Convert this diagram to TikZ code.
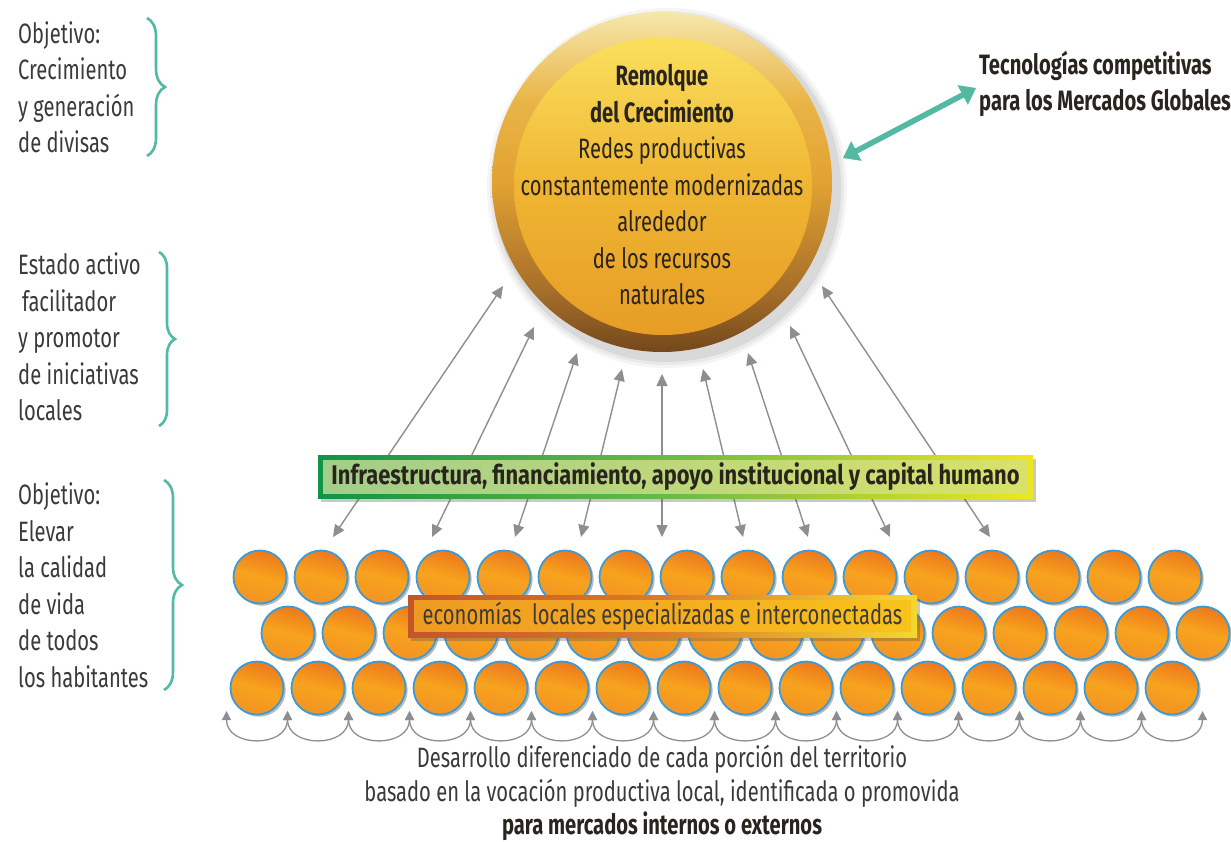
\documentclass[tikz,border=0pt]{standalone}
\usepackage{fontspec}
\setmainfont{Fira Sans}[FakeStretch=0.72]
\newfontfamily\barfont{Fira Sans}[FakeStretch=0.81]
\usetikzlibrary{arrows.meta,decorations.pathreplacing,shadows}

\definecolor{ink}{HTML}{2A241E}
\definecolor{greytxt}{HTML}{3A3A3A}
\definecolor{tealbr}{HTML}{52B9A3}
\definecolor{arrowgrey}{HTML}{8D8E91}
\definecolor{orbblue}{HTML}{3C9BD6}
\definecolor{orbdark}{HTML}{EE781C}
\definecolor{orbmid}{HTML}{F7A31E}
\definecolor{orblow}{HTML}{F39323}
\definecolor{ringA}{HTML}{74481B}
\definecolor{ringB}{HTML}{A66E29}
\definecolor{ringC}{HTML}{E2A232}
\definecolor{ringD}{HTML}{E9B548}
\definecolor{ringE}{HTML}{F6E7AC}
\definecolor{coreA}{HTML}{E69D26}
\definecolor{coreB}{HTML}{EFB532}
\definecolor{coreC}{HTML}{FAE05E}
\definecolor{gframeL}{HTML}{0E9447}
\definecolor{gframeM}{HTML}{6DBB45}
\definecolor{gframeR}{HTML}{F0E61E}
\definecolor{ginnerL}{HTML}{A3CD8B}
\definecolor{ginnerM}{HTML}{BDD77A}
\definecolor{ginnerR}{HTML}{D8E26B}
\definecolor{oframeL}{HTML}{C3552B}
\definecolor{oframeM}{HTML}{DB7A2A}
\definecolor{oframeR}{HTML}{F2D830}
\definecolor{oinnerL}{HTML}{EE9A22}
\definecolor{oinnerM}{HTML}{F4AC20}
\definecolor{oinnerR}{HTML}{F8C31B}

% golden sphere: ring and core
\pgfdeclareverticalshading{ringshade}{100bp}{%
  color(0bp)=(ringA); color(25bp)=(ringA); color(34bp)=(ringB);
  color(50bp)=(ringC); color(62bp)=(ringD); color(75bp)=(ringE);
  color(100bp)=(ringE)}
\pgfdeclareverticalshading{coreshade}{100bp}{%
  color(0bp)=(coreA); color(25bp)=(coreA); color(50bp)=(coreB);
  color(75bp)=(coreC); color(100bp)=(coreC)}

\begin{document}
\begin{tikzpicture}[x=1pt,y=-1pt,
  txt/.style={font=\fontsize{28}{36.5}\selectfont, inner sep=0pt},
  greyarrow/.style={draw=arrowgrey, line width=1.4pt,
    {Triangle[length=12pt,width=11pt]}-{Triangle[length=12pt,width=11pt]}},
  looparrow/.style={draw=arrowgrey, line width=1.3pt,
    {Triangle[length=9pt,width=9pt]}-{Triangle[length=9pt,width=9pt]}},
  tealarrow/.style={draw=tealbr, line width=5.5pt,
    {Triangle[length=15pt,width=21pt]}-{Triangle[length=15pt,width=21pt]}},
  bracestyle/.style={draw=tealbr, line width=2.6pt,
    decorate, decoration={brace, amplitude=#1}},
  orb/.style={circle, minimum size=53pt, inner sep=0pt, outer sep=0pt,
    draw=orbblue, line width=1.8pt,
    top color=orbdark, bottom color=orblow, middle color=orbmid,
    shading angle=-15,
    drop shadow={shadow xshift=2.2pt, shadow yshift=-2.2pt, opacity=0.45, fill=black!60}},
  barframe/.style={rectangle, inner sep=0pt, outer sep=0pt,
    drop shadow={shadow xshift=3pt, shadow yshift=-4pt, opacity=0.3, fill=black!70}},
  barinner/.style={rectangle, inner sep=0pt, outer sep=0pt},
]
\useasboundingbox (0,0) rectangle (1231,841);

% soft shadow behind the sphere
\foreach \r/\o in {180/0.04,177/0.05,174/0.07} \fill[black, opacity=\o] (667,188) circle (\r);
% sphere
\shade[shading=ringshade] (662,182) circle (170);
\shade[shading=coreshade] (663,186) circle (149);
\node[txt, ink, align=center] (sphere) at (662,185)
  {\textbf{Remolque}\\\textbf{del Crecimiento}\\Redes productivas\\constantemente modernizadas\\alrededor\\de los recursos\\naturales};

% global technologies
\node[txt, ink, anchor=west, align=left] (tec) at (979,84)
  {\textbf{Tecnologías competitivas}\\\textbf{para los Mercados Globales}};
\coordinate (tecnear) at (843,158);
\coordinate (tecfar) at (976,88);
\draw[tealarrow, draw=black, opacity=0.15, shift={(2,3)}] (tecnear) -- (tecfar);
\draw[tealarrow] (tecnear) -- (tecfar);

% left column
\node[txt, greytxt, anchor=west, align=left] (goalA) at (18,87)
  {Objetivo:\\Crecimiento\\y generación\\de divisas};
\node[txt, greytxt, anchor=west, align=left] (goalB) at (18,337)
  {Estado activo\\\hspace{4pt}facilitador\\y promotor\\de iniciativas\\locales};
\node[txt, greytxt, anchor=west, align=left] (goalC) at (18,585)
  {Objetivo:\\Elevar\\la calidad\\de vida\\de todos\\los habitantes};
\draw[bracestyle=18pt] (147,18) -- (147,156);
\draw[bracestyle=16pt] (159,252) -- (159,426);
\draw[bracestyle=18pt] (164,480) -- (164,690);

% links between the sphere and the local economies
\coordinate (t1) at (503,286); \coordinate (b1) at (333,537);
\coordinate (t2) at (534,327); \coordinate (b2) at (432,537);
\coordinate (t3) at (577,353); \coordinate (b3) at (515,537);
\coordinate (t4) at (622,369); \coordinate (b4) at (581,537);
\coordinate (t5) at (662,374); \coordinate (b5) at (662,537);
\coordinate (t6) at (703,369); \coordinate (b6) at (743,537);
\coordinate (t7) at (748,353); \coordinate (b7) at (808,537);
\coordinate (t8) at (790,326); \coordinate (b8) at (890,537);
\coordinate (t9) at (822,286); \coordinate (b9) at (990,537);
\foreach \i in {1,...,9} \draw[greyarrow] (t\i) -- (b\i);

% local economies
\foreach \k in {0,...,15} \node[orb] (ra\k) at ({260+61*\k},577) {};
\foreach \k in {0,...,15} \node[orb] (rb\k) at ({288+61*\k},633) {};
\foreach \k in {0,...,15} \node[orb] (rc\k) at ({257+61*\k},688) {};

% links between neighbouring territories
\foreach \k in {0,...,16} \coordinate (j\k) at ({226.5+61*\k},711);
\foreach \k in {0,...,15} {
  \pgfmathtruncatemacro{\n}{\k+1}
  \draw[looparrow] (j\k) .. controls +(0,37) and +(0,37) .. (j\n);
}

% support bar
\node[barframe, minimum width=715pt, minimum height=43pt,
  left color=gframeL, right color=gframeR, middle color=gframeM] (infraframe) at (675.5,476.5) {};
\node[barinner, minimum width=705pt, minimum height=33pt,
  left color=ginnerL, right color=ginnerR, middle color=ginnerM,
  font=\barfont\fontsize{27}{30}\selectfont\bfseries, text=ink] (infra) at (675.5,476.5)
  {Infraestructura, financiamiento, apoyo institucional y capital humano};

% local economies bar
\node[barframe, minimum width=509pt, minimum height=42pt,
  left color=oframeL, right color=oframeR, middle color=oframeM] (econframe) at (662.5,616) {};
\node[barinner, minimum width=497pt, minimum height=31pt,
  left color=oinnerL, right color=oinnerR, middle color=oinnerM,
  font=\fontsize{28}{30}\selectfont, text=ink!90] (econ) at (662.5,616)
  {economías\ \ locales especializadas e interconectadas};

% caption
\node[txt, greytxt, align=center, font=\fontsize{28}{33.5}\selectfont] (basis) at (662,793)
  {Desarrollo diferenciado de cada porción del territorio\\basado en la vocación productiva local, identificada o promovida\\\textcolor{ink}{\textbf{para mercados internos o externos}}};
\end{tikzpicture}
\end{document}
